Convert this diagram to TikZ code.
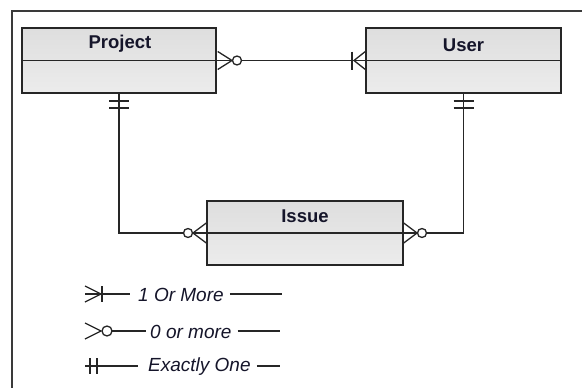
\documentclass[tikz,border=0pt]{standalone}
\usepackage{fontspec}
\setmainfont{Liberation Sans}
\usetikzlibrary{calc}
\definecolor{ink}{HTML}{262626}
\definecolor{frameink}{HTML}{3A3A3A}
\definecolor{txt}{HTML}{15152A}
\definecolor{shadetop}{HTML}{DEDEDE}
\definecolor{shadebot}{HTML}{ECECEC}
\begin{document}
\begin{tikzpicture}[x=1pt,y=-1pt,
  entity/.style={draw=ink, line width=1.4pt, top color=shadetop, bottom color=shadebot,
                 rectangle, inner sep=0pt},
  title/.style={font=\fontsize{18.5}{20}\selectfont\bfseries, text=txt, inner sep=0pt},
  rel/.style={draw=ink, line width=1.3pt},
  ring/.style={draw=ink, line width=1.3pt, fill=white},
  legtext/.style={font=\fontsize{19}{21}\selectfont\itshape, text=txt, inner sep=0pt, anchor=west}]

\useasboundingbox (0,0) rectangle (582,388);
\fill[white] (0,0) rectangle (582,388);

% outer frame (top and left edges)
\draw[frameink, line width=1.5pt] (12,388) -- (12,11) -- (582,11);

% entities
\node[entity, minimum width=194pt, minimum height=65pt] (project) at (119,60.5) {};
\node[entity, minimum width=195pt, minimum height=65pt] (user) at (463.5,60.5) {};
\node[entity, minimum width=196pt, minimum height=64pt] (issue) at (305,233) {};
\draw[rel] (project.west) -- (project.east);
\draw[rel] (user.west) -- (user.east);
\draw[rel] (issue.west) -- (issue.east);
\node[title] (projectT) at (120,44) {Project};
\node[title] (userT) at (463.5,45) {User};
\node[title] (issueT) at (305,216) {Issue};

% Project -- User : zero or more / one or more
\draw[rel] (project.east) -- (user.west);
\draw[rel] ($(project.east)+(1,-9)$) -- (232,60.5) -- ($(project.east)+(1,9)$);
\draw[ring] (237,60.5) circle (4.5);
\draw[rel] (352,51.5) -- (352,69.5);
\draw[rel] ($(user.west)+(0,-9)$) -- (354,60.5) -- ($(user.west)+(0,9)$);

% Project -- Issue : exactly one / zero or more
\draw[rel] (project.south) -- (project.south |- issue.west) -- (issue.west);
\draw[rel] (109,101) -- (129,101);
\draw[rel] (109,108) -- (129,108);
\draw[rel] ($(issue.west)+(0,-10)$) -- (193,233) -- ($(issue.west)+(0,10)$);
\draw[ring] (188,233) circle (4.5);

% User -- Issue : exactly one / zero or more
\draw[rel] (user.south) -- (user.south |- issue.east) -- (issue.east);
\draw[rel] (453.5,101) -- (473.5,101);
\draw[rel] (453.5,108) -- (473.5,108);
\draw[rel] ($(issue.east)+(0,-10)$) -- (417,233) -- ($(issue.east)+(0,10)$);
\draw[ring] (422,233) circle (4.5);

% legend
\coordinate (r1) at (85,294);
\coordinate (r2) at (85,331);
\coordinate (r3) at (85,366);

\draw[rel] (r1) -- (130,294);
\draw[rel] (85,286) -- (101,294) -- (85,302);
\draw[rel] (102,286) -- (102,302);
\node[legtext] (l1) at (138,295) {1 Or More};
\coordinate (e1) at (282,294);
\draw[rel] ($(l1.east)+(6,-1)$) -- (e1);

\draw[rel] (85,323) -- (101,331) -- (85,339);
\draw[ring] (107,331) circle (5);
\draw[rel] (112,331) -- (146,331);
\node[legtext] (l2) at (150,332) {0 or more};
\coordinate (e2) at (280,331);
\draw[rel] ($(l2.east)+(6,-1)$) -- (e2);

\draw[rel] (r3) -- (138,366);
\draw[rel] (90,358) -- (90,374);
\draw[rel] (97,358) -- (97,374);
\node[legtext] (l3) at (148,367) {Exactly One};
\coordinate (e3) at (280,366);
\draw[rel] ($(l3.east)+(6,-1)$) -- (e3);
\end{tikzpicture}
\end{document}
